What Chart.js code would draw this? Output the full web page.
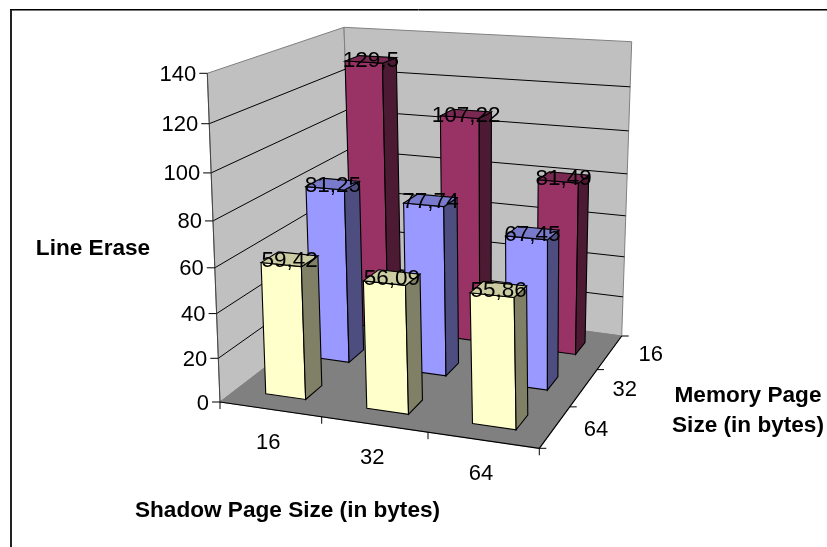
<!DOCTYPE html>
<html>
<head>
<meta charset="utf-8">
<style>
    html, body { margin: 0; padding: 0; background: #fff; }
    #chart_canvas { display: block; }
</style>
</head>
<body>
<canvas id="chart_canvas" width="827" height="547"></canvas>
<script src="https://cdn.jsdelivr.net/npm/chart.js@4"></script>
<script>
const shadowSizes = ['16', '32', '64'];
// front row first
const memorySizes = ['64', '32', '16'];
const mem16 = [129.5, 107.22, 81.49];
const mem32 = [81.25, 77.74, 67.45];
const mem64 = [59.42, 56.09, 55.86];
const valueLabels16 = ['129,5', '107,22', '81,49'];
const valueLabels32 = ['81,25', '77,74', '67,45'];
const valueLabels64 = ['59,42', '56,09', '55,86'];

// corners of the 3d box on the page
const box = {
    floor: { fl: [220, 402], fr: [539.3, 448.3], bl: [353, 300], br: [621.7, 336] },
    top: { fl: [207.3, 73.3], fr: [533, 88], bl: [344, 27.3], br: [631.7, 41.7] },
};
const FONT = '"Liberation Sans", Arial, sans-serif';
const DEPTH = 0.36;

function warpDown(t, k) { return t / (t + k * (1 - t)); }
function warpUp(t, k) { return t * k / (1 + (k - 1) * t); }
function lerp(a, b, t) { return [a[0] + (b[0] - a[0]) * t, a[1] + (b[1] - a[1]) * t]; }

// u across, v into the page, w up, all 0-1
function project(u, v, w) {
    const uu = warpDown(u, 1.07);
    const vv = warpUp(v, 1.17);
    const ww = warpDown(w, 1.087);
    const level = (c) => lerp(lerp(c.fl, c.fr, uu), lerp(c.bl, c.br, uu), vv);
    return lerp(level(box.floor), level(box.top), ww);
}

function poly(ctx, pts, fill, stroke, lw) {
    ctx.beginPath();
    pts.forEach((p, i) => i ? ctx.lineTo(p[0], p[1]) : ctx.moveTo(p[0], p[1]));
    ctx.closePath();
    if (fill) { ctx.fillStyle = fill; ctx.fill(); }
    if (stroke) { ctx.strokeStyle = stroke; ctx.lineWidth = lw || 1; ctx.stroke(); }
}

function line(ctx, a, b, color, lw) {
    ctx.beginPath();
    ctx.moveTo(a[0], a[1]);
    ctx.lineTo(b[0], b[1]);
    ctx.strokeStyle = color;
    ctx.lineWidth = lw || 1;
    ctx.stroke();
}

function label(ctx, text, x, y, font, align) {
    ctx.font = font;
    ctx.fillStyle = '#000';
    ctx.textAlign = align || 'center';
    ctx.textBaseline = 'middle';
    ctx.fillText(text, x, y + 1.5);
}

const bars3d = {
    id: 'bars3d',
    beforeDatasetsDraw(chart) {
        const { ctx, chartArea: area, scales: { x, y, z } } = chart;
        const decX = (px) => (px - area.left) / area.width;
        const decZ = (px) => (px - area.left) / area.width;
        const decY = (v) => (area.bottom - y.getPixelForValue(v)) / area.height;

        ctx.save();

        // frame, only top and left show
        line(ctx, [10, 9.5], [827, 9.5], '#000', 1);
        line(ctx, [10, 10.5], [827, 10.5], '#777', 1);
        line(ctx, [11, 10], [11, 547], '#222', 2);

        // walls and floor
        poly(ctx, [project(0, 0, 0), project(0, 1, 0), project(0, 1, 1), project(0, 0, 1)], '#c0c0c0', '#808080');
        poly(ctx, [project(0, 1, 0), project(1, 1, 0), project(1, 1, 1), project(0, 1, 1)], '#c0c0c0', '#808080');
        y.ticks.forEach((t) => {
            if (t.value === 0 || t.value === y.max) return;
            const w = decY(t.value);
            line(ctx, project(0, 0, w), project(0, 1, w), '#000');
            line(ctx, project(0, 1, w), project(1, 1, w), '#000');
        });
        poly(ctx, [project(0, 0, 0), project(1, 0, 0), project(1, 1, 0), project(0, 1, 0)], '#808080', '#808080');

        // axes edges and ticks
        line(ctx, project(0, 0, 0), project(0, 0, 1), '#444');
        line(ctx, project(0, 0, 0), project(1, 0, 0), '#000', 1.2);
        line(ctx, project(1, 0, 0), project(1, 1, 0), '#000', 1.2);
        y.ticks.forEach((t) => {
            const p = project(0, 0, decY(t.value));
            line(ctx, [p[0] - 8, p[1]], p, '#000');
            label(ctx, t.label, p[0] - 11, p[1], '22px ' + FONT, 'right');
        });
        for (let i = 0; i <= shadowSizes.length; i++) {
            const p = project(i / shadowSizes.length, 0, 0);
            line(ctx, p, [p[0], p[1] + 7], '#000');
        }
        for (let i = 0; i <= memorySizes.length; i++) {
            const p = project(1, i / memorySizes.length, 0);
            line(ctx, p, [p[0] + 7, p[1]], '#000');
        }
        x.ticks.forEach((t, i) => {
            const p = project(decX(x.getPixelForTick(i)), 0, 0);
            label(ctx, t.label, p[0] - 2, p[1] + 32, '22px ' + FONT);
        });
        z.ticks.forEach((t, i) => {
            const p = project(1, decZ(z.getPixelForTick(i)), 0);
            label(ctx, t.label, p[0] + 41, p[1] + 1, '22px ' + FONT);
        });

        // bars, back row first, left to right
        const texts = [];
        for (let d = chart.data.datasets.length - 1; d >= 0; d--) {
            const ds = chart.data.datasets[d];
            const zc = decZ(z.getPixelForValue(memorySizes.indexOf(ds.label)));
            const slot = 1 / memorySizes.length;
            const v0 = zc - DEPTH * slot / 2;
            const v1 = zc + DEPTH * slot / 2;
            chart.getDatasetMeta(d).data.forEach((el, i) => {
                const u0 = decX(el.x - el.width / 2);
                const u1 = decX(el.x + el.width / 2);
                const w = (area.bottom - el.y) / area.height;
                poly(ctx, [project(u0, v0, 0), project(u1, v0, 0), project(u1, v0, w), project(u0, v0, w)], ds.backgroundColor, '#000', 1.1);
                poly(ctx, [project(u1, v0, 0), project(u1, v1, 0), project(u1, v1, w), project(u1, v0, w)], ds.sideColor, '#000', 1.1);
                const topFace = [project(u0, v0, w), project(u1, v0, w), project(u1, v1, w), project(u0, v1, w)];
                poly(ctx, topFace, ds.topColor, '#000', 1.1);
                const cx = topFace.reduce((a, p) => a + p[0], 0) / 4;
                const cy = topFace.reduce((a, p) => a + p[1], 0) / 4;
                texts.push([ds.valueLabels[i], cx, cy]);
            });
        }
        texts.forEach((t) => label(ctx, t[0], t[1], t[2], '22.5px ' + FONT));

        // axis titles
        const bold = 'bold 22.6px ' + FONT;
        label(ctx, 'Line Erase', 93, 247, bold);
        label(ctx, 'Shadow Page Size (in bytes)', 287.5, 509, bold);
        label(ctx, 'Memory Page', 748, 394, bold);
        label(ctx, 'Size (in bytes)', 748, 424, bold);

        ctx.restore();
        return false;
    }
};

new Chart(document.getElementById('chart_canvas'), {
    type: 'bar',
    data: {
        labels: shadowSizes,
        datasets: [
            { label: '64', data: mem64, valueLabels: valueLabels64, backgroundColor: '#ffffcc', sideColor: '#808066', topColor: '#cccca3' },
            { label: '32', data: mem32, valueLabels: valueLabels32, backgroundColor: '#9999ff', sideColor: '#4d4d80', topColor: '#7a7acc' },
            { label: '16', data: mem16, valueLabels: valueLabels16, backgroundColor: '#993366', sideColor: '#4d1a33', topColor: '#7a2952' },
        ]
    },
    options: {
        responsive: false,
        animation: false,
        grouped: false,
        categoryPercentage: 0.4,
        barPercentage: 1,
        plugins: { legend: { display: false }, tooltip: { enabled: false } },
        scales: {
            x: { display: false, offset: true },
            y: { display: false, min: 0, max: 140, ticks: { stepSize: 20 } },
            z: { type: 'category', axis: 'x', labels: memorySizes, display: false, offset: true },
        }
    },
    plugins: [bars3d]
});
</script>
</body>
</html>
